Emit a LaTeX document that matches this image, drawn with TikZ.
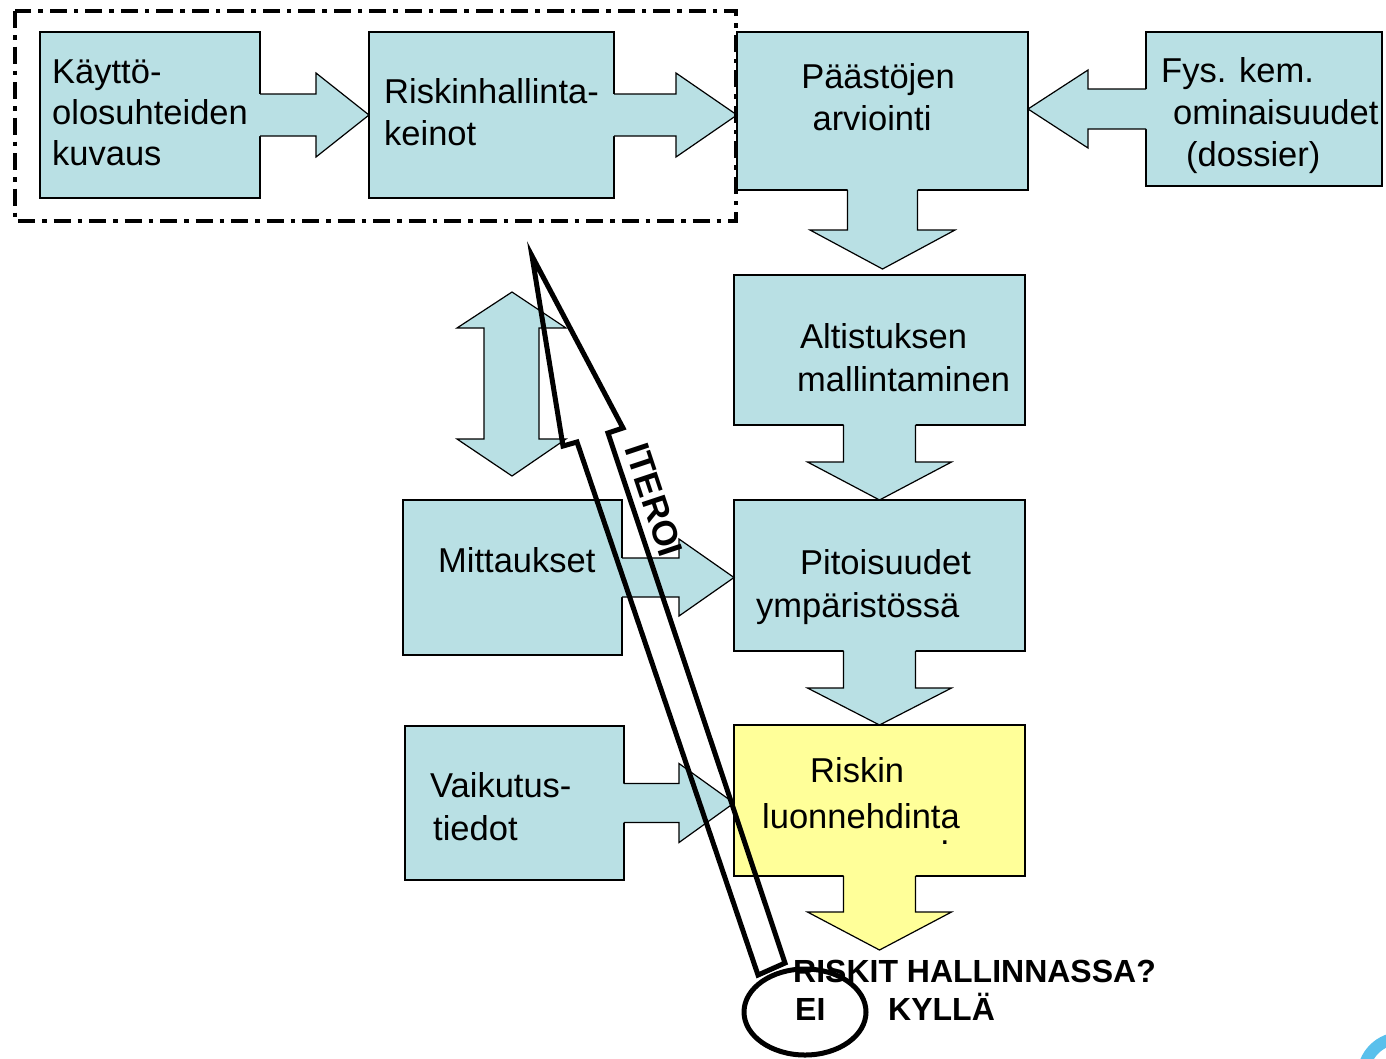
\documentclass[tikz,border=0pt]{standalone}
\usepackage{fontspec}
\setmainfont{Liberation Sans}
\usetikzlibrary{calc}
\definecolor{cy}{RGB}{185,224,228}
\definecolor{yl}{RGB}{255,255,153}
\definecolor{logo}{RGB}{90,192,236}
\tikzset{
  box/.style={draw=black, line width=1.2pt, fill=cy, anchor=north west, inner sep=0pt, outer sep=0pt},
  lbl/.style={font=\fontsize{34.5}{40}\selectfont, inner sep=0pt, anchor=base west},
  lblc/.style={lbl, anchor=base},
  boldlbl/.style={font=\bfseries\fontsize{32}{38}\selectfont, inner sep=0pt, anchor=base west},
  arrowline/.style={draw=black, line width=1.2pt, line join=miter},
  dashframe/.style={line width=4.5pt, dash pattern=on 17pt off 7pt on 4.5pt off 7pt},
  iterline/.style={line width=5pt, line join=miter},
}
% block arrow: [fill] {from} {tip} {shaft half width} {head half width} {head length}
\newcommand\barrow[6][cy]{%
  \path let \p1=(#2), \p2=(#3) in
    \pgfextra{%
      \pgfmathsetmacro\baang{atan2(\y2-\y1,\x2-\x1)}%
      \pgfmathsetmacro\balen{veclen(\x2-\x1,\y2-\y1)}%
      \xdef\baAng{\baang}\xdef\baLen{\balen}};
  \begin{scope}[shift={(#2)},rotate=\baAng]
    \fill[#1] (-1.5,-#4) -- ({\baLen-#6},-#4) -- ({\baLen-#6},-#5) -- (\baLen,0) -- ({\baLen-#6},#5) -- ({\baLen-#6},#4) -- (-1.5,#4) -- cycle;
    \draw[arrowline] (0,-#4) -- ({\baLen-#6},-#4) -- ({\baLen-#6},-#5) -- (\baLen,0) -- ({\baLen-#6},#5) -- ({\baLen-#6},#4) -- (0,#4);
  \end{scope}}

\begin{document}
\begin{tikzpicture}[x=1pt,y=-1pt]
\useasboundingbox (0,0) rectangle (1386,1058);

% boxes
\node[box, minimum width=220pt, minimum height=166pt] (b1) at (40,32) {};
\node[box, minimum width=245pt, minimum height=166pt] (b2) at (369,32) {};
\node[box, minimum width=291pt, minimum height=158pt] (b3) at (737,32) {};
\node[box, minimum width=236pt, minimum height=154pt] (b4) at (1146,32) {};
\node[box, minimum width=291pt, minimum height=150pt] (b5) at (734,275) {};
\node[box, minimum width=291pt, minimum height=151pt] (b6) at (734,500) {};
\node[box, fill=yl, minimum width=291pt, minimum height=151pt] (b7) at (734,725) {};
\node[box, minimum width=219pt, minimum height=155pt] (bm) at (403,500) {};
\node[box, minimum width=219pt, minimum height=154pt] (bv) at (405,726) {};

\coordinate (p35) at ($(b3.south |- b5.north)+(0,-6)$);
\coordinate (q7) at ($(b7.south)+(0,74)$);

% block arrows
\barrow{b1.east}{b1.east -| b2.west}{21}{42}{53}
\barrow{b2.east}{b2.east -| b3.west}{21}{42}{61}
\barrow{b4.west}{b4.west -| b3.east}{20}{39}{60}
\barrow{b3.south}{p35}{35}{72.5}{39}
\barrow{b5.south}{b6.north}{36}{72}{38}
\barrow{b6.south}{b7.north}{36}{72}{37}
\barrow[yl]{b7.south}{q7}{36}{72}{38}
\barrow{bm.east}{bm.east -| b6.west}{19.5}{38.5}{55}
\barrow{bv.east}{bv.east -| b7.west}{19.5}{39.5}{55}

% dashed group frame
\draw[dashframe] (15,11) rectangle (736,221);

% texts
\node[lbl] (t1a) at (52,83) {Käyttö-};
\node[lbl] (t1b) at (52,124) {olosuhteiden};
\node[lbl] (t1c) at (52,165) {kuvaus};
\node[lbl] (t2a) at (384,103) {Riskinhallinta-};
\node[lbl] (t2b) at (384,145) {keinot};
\node[lblc] (t3a) at (878,88) {Päästöjen};
\node[lblc] (t3b) at (872,130) {arviointi};
\node[lbl] (t4a) at (1161,82) {Fys. kem.};
\node[lbl] (t4b) at (1173,124) {ominaisuudet};
\node[lbl] (t4c) at (1186,166) {(dossier)};
\node[lbl] (t5a) at (800,348) {Altistuksen};
\node[lbl] (t5b) at (797,391) {mallintaminen};
\node[lbl] (t6a) at (800,574) {Pitoisuudet};
\node[lbl] (t6b) at (756,617) {ympäristössä};
\node[lbl] (t7a) at (810,782) {Riskin};
\node[lbl] (t7b) at (762,828) {luonnehdinta};
\node[lblc] (t7c) at (945,844) {.};
\node[lbl] (tma) at (438,572) {Mittaukset};
\node[lbl] (tva) at (430,797) {Vaikutus-};
\node[lbl] (tvb) at (433,840) {tiedot};

% double vertical arrow
\draw[arrowline, fill=cy] (512,292) -- (566,328) -- (539,328) -- (539,439) -- (566,439) -- (512,476)
  -- (457,439) -- (484,439) -- (484,328) -- (457,328) -- cycle;

% ITEROI arrow
\draw[iterline] (532,256) -- (623,428) -- (608,433) -- (785,963) -- (758,975) -- (577,442) -- (563,446) -- cycle;
\node[font=\bfseries\fontsize{35}{40}\selectfont, inner sep=0pt, rotate=-71.6] (iter) at (654,500) {ITEROI};

% decision
\draw[line width=5pt] (805,1012) ellipse [x radius=61pt, y radius=43pt];
\node[boldlbl] (q1) at (793,982) {RISKIT HALLINNASSA?};
\node[boldlbl] (q2) at (795,1020) {EI};
\node[boldlbl] (q3) at (888,1020) {KYLLÄ};

% logo fragment
\begin{scope}
  \clip (0,0) rectangle (1386,1058);
  \draw[logo, line width=12pt] (1401,1076) circle[radius=38pt];
\end{scope}
\end{tikzpicture}
\end{document}
